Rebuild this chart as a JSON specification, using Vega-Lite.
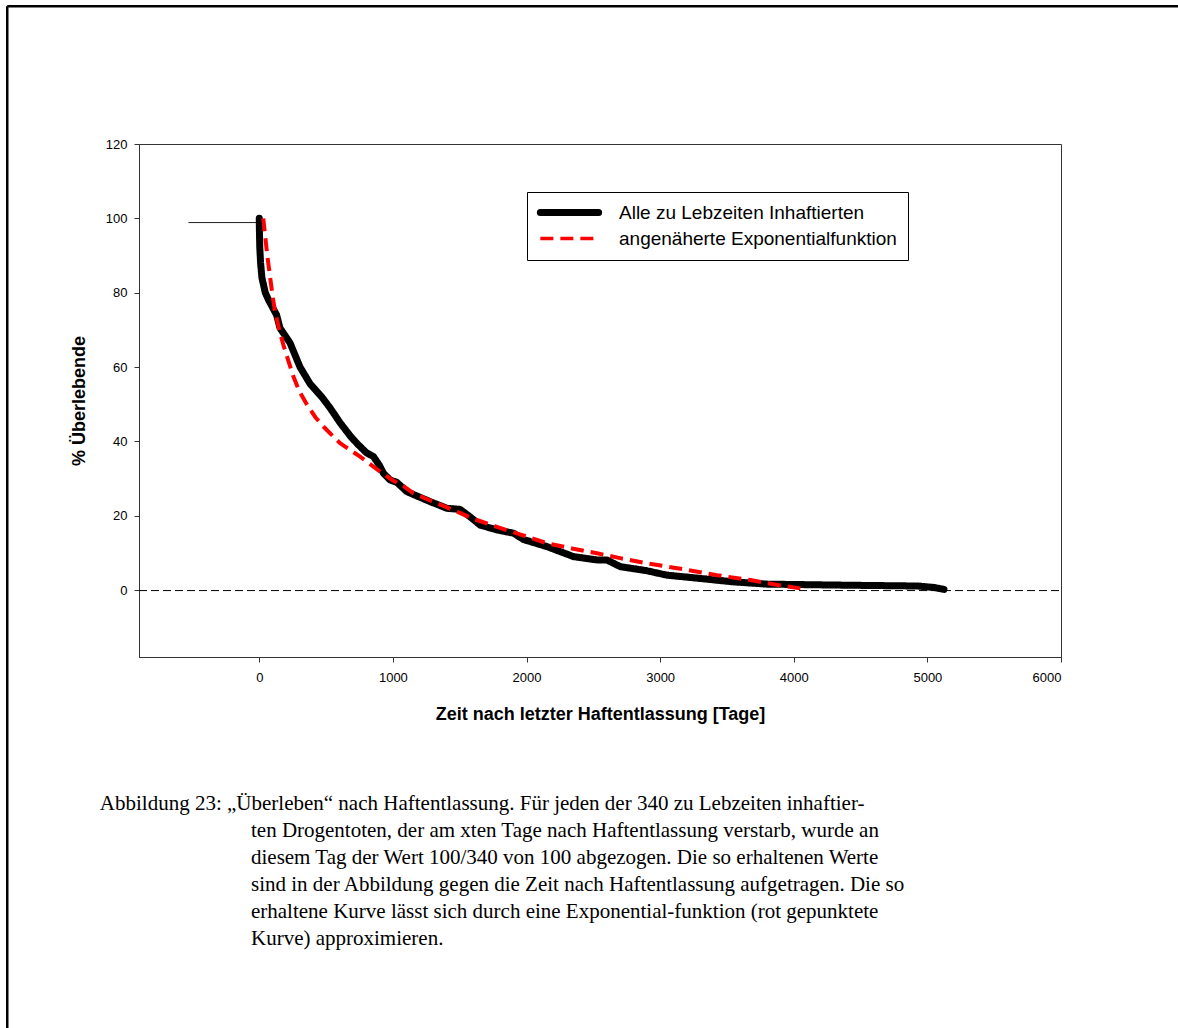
{
  "$schema": "https://vega.github.io/schema/vega-lite/v6.json",
  "width": 922,
  "height": 513,
  "autosize": {"type": "none"},
  "padding": {"left": 139, "top": 144, "right": 117, "bottom": 371},
  "background": "white",
  "config": {
    "view": {"stroke": "#333333", "strokeWidth": 1},
    "font": "Liberation Sans",
    "axis": {
      "domainColor": "#333333", "tickColor": "#333333", "labelColor": "black", "titleColor": "black",
      "grid": false, "labelFont": "Liberation Sans", "titleFont": "Liberation Sans",
      "labelFontSize": 13, "titleFontSize": 18, "titleFontWeight": "bold", "tickSize": 5
    },
    "legend": {
      "orient": "none", "legendX": 388, "legendY": 48, "strokeColor": "black", "fillColor": "white",
      "padding": 11, "symbolType": "stroke", "symbolSize": 3400, "labelFontSize": 19, "labelLimit": 0,
      "labelFont": "Liberation Sans", "labelColor": "black", "rowPadding": 2, "labelOffset": 40, "symbolOffset": 22
    }
  },
  "datasets": {
    "curves": [
      {"series": "Alle zu Lebzeiten Inhaftierten", "x": 0, "y": 100},
      {"series": "Alle zu Lebzeiten Inhaftierten", "x": 1, "y": 97},
      {"series": "Alle zu Lebzeiten Inhaftierten", "x": 4, "y": 92},
      {"series": "Alle zu Lebzeiten Inhaftierten", "x": 10, "y": 88},
      {"series": "Alle zu Lebzeiten Inhaftierten", "x": 20, "y": 84},
      {"series": "Alle zu Lebzeiten Inhaftierten", "x": 45, "y": 80},
      {"series": "Alle zu Lebzeiten Inhaftierten", "x": 70, "y": 78},
      {"series": "Alle zu Lebzeiten Inhaftierten", "x": 100, "y": 76},
      {"series": "Alle zu Lebzeiten Inhaftierten", "x": 130, "y": 74},
      {"series": "Alle zu Lebzeiten Inhaftierten", "x": 155, "y": 70.5},
      {"series": "Alle zu Lebzeiten Inhaftierten", "x": 230, "y": 66.5},
      {"series": "Alle zu Lebzeiten Inhaftierten", "x": 305, "y": 60},
      {"series": "Alle zu Lebzeiten Inhaftierten", "x": 380, "y": 55.5},
      {"series": "Alle zu Lebzeiten Inhaftierten", "x": 467, "y": 52},
      {"series": "Alle zu Lebzeiten Inhaftierten", "x": 530, "y": 49},
      {"series": "Alle zu Lebzeiten Inhaftierten", "x": 605, "y": 45},
      {"series": "Alle zu Lebzeiten Inhaftierten", "x": 680, "y": 41.5},
      {"series": "Alle zu Lebzeiten Inhaftierten", "x": 730, "y": 39.5},
      {"series": "Alle zu Lebzeiten Inhaftierten", "x": 800, "y": 37},
      {"series": "Alle zu Lebzeiten Inhaftierten", "x": 855, "y": 35.9},
      {"series": "Alle zu Lebzeiten Inhaftierten", "x": 900, "y": 33.5},
      {"series": "Alle zu Lebzeiten Inhaftierten", "x": 930, "y": 31.4},
      {"series": "Alle zu Lebzeiten Inhaftierten", "x": 980, "y": 29.6},
      {"series": "Alle zu Lebzeiten Inhaftierten", "x": 1029, "y": 29},
      {"series": "Alle zu Lebzeiten Inhaftierten", "x": 1104, "y": 26.5},
      {"series": "Alle zu Lebzeiten Inhaftierten", "x": 1200, "y": 25},
      {"series": "Alle zu Lebzeiten Inhaftierten", "x": 1279, "y": 23.8},
      {"series": "Alle zu Lebzeiten Inhaftierten", "x": 1404, "y": 22},
      {"series": "Alle zu Lebzeiten Inhaftierten", "x": 1503, "y": 21.7},
      {"series": "Alle zu Lebzeiten Inhaftierten", "x": 1578, "y": 19.7},
      {"series": "Alle zu Lebzeiten Inhaftierten", "x": 1653, "y": 17.5},
      {"series": "Alle zu Lebzeiten Inhaftierten", "x": 1778, "y": 16.2},
      {"series": "Alle zu Lebzeiten Inhaftierten", "x": 1903, "y": 15.3},
      {"series": "Alle zu Lebzeiten Inhaftierten", "x": 1978, "y": 13.6},
      {"series": "Alle zu Lebzeiten Inhaftierten", "x": 2153, "y": 11.7},
      {"series": "Alle zu Lebzeiten Inhaftierten", "x": 2352, "y": 9},
      {"series": "Alle zu Lebzeiten Inhaftierten", "x": 2527, "y": 8.1},
      {"series": "Alle zu Lebzeiten Inhaftierten", "x": 2602, "y": 8.1},
      {"series": "Alle zu Lebzeiten Inhaftierten", "x": 2702, "y": 6.3},
      {"series": "Alle zu Lebzeiten Inhaftierten", "x": 2902, "y": 5.2},
      {"series": "Alle zu Lebzeiten Inhaftierten", "x": 3052, "y": 4},
      {"series": "Alle zu Lebzeiten Inhaftierten", "x": 3226, "y": 3.4},
      {"series": "Alle zu Lebzeiten Inhaftierten", "x": 3551, "y": 2.2},
      {"series": "Alle zu Lebzeiten Inhaftierten", "x": 3801, "y": 1.6},
      {"series": "Alle zu Lebzeiten Inhaftierten", "x": 4425, "y": 1.3},
      {"series": "Alle zu Lebzeiten Inhaftierten", "x": 4924, "y": 1.1},
      {"series": "Alle zu Lebzeiten Inhaftierten", "x": 5050, "y": 0.7},
      {"series": "Alle zu Lebzeiten Inhaftierten", "x": 5124, "y": 0.2},
      {"series": "angenäherte Exponentialfunktion", "x": 30, "y": 100},
      {"series": "angenäherte Exponentialfunktion", "x": 45, "y": 95},
      {"series": "angenäherte Exponentialfunktion", "x": 60, "y": 90},
      {"series": "angenäherte Exponentialfunktion", "x": 82, "y": 84},
      {"series": "angenäherte Exponentialfunktion", "x": 100, "y": 79},
      {"series": "angenäherte Exponentialfunktion", "x": 118, "y": 75},
      {"series": "angenäherte Exponentialfunktion", "x": 150, "y": 70},
      {"series": "angenäherte Exponentialfunktion", "x": 180, "y": 66},
      {"series": "angenäherte Exponentialfunktion", "x": 255, "y": 57.5},
      {"series": "angenäherte Exponentialfunktion", "x": 300, "y": 53.5},
      {"series": "angenäherte Exponentialfunktion", "x": 355, "y": 50},
      {"series": "angenäherte Exponentialfunktion", "x": 420, "y": 46.5},
      {"series": "angenäherte Exponentialfunktion", "x": 480, "y": 44},
      {"series": "angenäherte Exponentialfunktion", "x": 605, "y": 39.5},
      {"series": "angenäherte Exponentialfunktion", "x": 755, "y": 35.9},
      {"series": "angenäherte Exponentialfunktion", "x": 906, "y": 31.8},
      {"series": "angenäherte Exponentialfunktion", "x": 1000, "y": 29.5},
      {"series": "angenäherte Exponentialfunktion", "x": 1079, "y": 28},
      {"series": "angenäherte Exponentialfunktion", "x": 1154, "y": 26},
      {"series": "angenäherte Exponentialfunktion", "x": 1300, "y": 23.8},
      {"series": "angenäherte Exponentialfunktion", "x": 1454, "y": 21.5},
      {"series": "angenäherte Exponentialfunktion", "x": 1600, "y": 19.2},
      {"series": "angenäherte Exponentialfunktion", "x": 1778, "y": 17},
      {"series": "angenäherte Exponentialfunktion", "x": 1950, "y": 15},
      {"series": "angenäherte Exponentialfunktion", "x": 2153, "y": 12.6},
      {"series": "angenäherte Exponentialfunktion", "x": 2340, "y": 11.2},
      {"series": "angenäherte Exponentialfunktion", "x": 2527, "y": 9.9},
      {"series": "angenäherte Exponentialfunktion", "x": 2700, "y": 8.6},
      {"series": "angenäherte Exponentialfunktion", "x": 2902, "y": 7.2},
      {"series": "angenäherte Exponentialfunktion", "x": 3176, "y": 5.6},
      {"series": "angenäherte Exponentialfunktion", "x": 3426, "y": 4.0},
      {"series": "angenäherte Exponentialfunktion", "x": 3676, "y": 2.7},
      {"series": "angenäherte Exponentialfunktion", "x": 3925, "y": 1.1},
      {"series": "angenäherte Exponentialfunktion", "x": 4100, "y": 0.2}
    ]
  },
  "layer": [
    {
      "data": {"values": [{}]},
      "mark": {"type": "rule", "color": "black", "strokeWidth": 1, "strokeDash": [8, 4]},
      "encoding": {
        "x": {"datum": -900, "type": "quantitative", "scale": {"domain": [-900, 6000], "nice": false, "zero": false}},
        "x2": {"datum": 6000},
        "y": {"datum": -0.13, "type": "quantitative", "scale": {"domain": [-18, 120], "nice": false, "zero": false}}
      }
    },
    {
      "data": {"values": [{}]},
      "mark": {"type": "rule", "color": "#222222", "strokeWidth": 1},
      "encoding": {
        "x": {"datum": -530, "type": "quantitative"},
        "x2": {"datum": 0},
        "y": {"datum": 98.87, "type": "quantitative"}
      }
    },
    {
      "data": {"name": "curves"},
      "transform": [{"filter": "datum.series === 'Alle zu Lebzeiten Inhaftierten'"}],
      "mark": {"type": "line", "strokeWidth": 7, "strokeCap": "round", "strokeJoin": "round"},
      "encoding": {
        "x": {"field": "x", "type": "quantitative",
          "scale": {"domain": [-900, 6000], "nice": false, "zero": false},
          "axis": {"values": [0, 1000, 2000, 3000, 4000, 5000, 6000], "title": "Zeit nach letzter Haftentlassung [Tage]", "labelPadding": 9, "titlePadding": 21, "format": "d"}},
        "y": {"field": "y", "type": "quantitative",
          "scale": {"domain": [-18, 120], "nice": false, "zero": false},
          "axis": {"values": [0, 20, 40, 60, 80, 100, 120], "title": "% Überlebende", "labelPadding": 7, "titlePadding": 17, "format": "d"}},
        "color": {"field": "series", "type": "nominal",
          "scale": {"domain": ["Alle zu Lebzeiten Inhaftierten", "angenäherte Exponentialfunktion"], "range": ["black", "#ff0000"]},
          "legend": {"title": null,
            "encode": {"symbols": {"update": {
              "strokeWidth": {"signal": "datum.value === 'Alle zu Lebzeiten Inhaftierten' ? 7 : 3.5"},
              "strokeCap": {"signal": "datum.value === 'Alle zu Lebzeiten Inhaftierten' ? 'round' : 'butt'"}
            }}}}},
        "strokeDash": {"field": "series", "type": "nominal",
          "scale": {"domain": ["Alle zu Lebzeiten Inhaftierten", "angenäherte Exponentialfunktion"], "range": [[1, 0], [13, 7]]},
          "legend": {"title": null}}
      }
    },
    {
      "data": {"name": "curves"},
      "transform": [{"filter": "datum.series === 'angenäherte Exponentialfunktion'"}],
      "mark": {"type": "line", "strokeWidth": 4, "strokeCap": "butt"},
      "encoding": {
        "x": {"field": "x", "type": "quantitative"},
        "y": {"field": "y", "type": "quantitative"},
        "color": {"field": "series", "type": "nominal"},
        "strokeDash": {"field": "series", "type": "nominal"}
      }
    },
    {
      "data": {"values": [{}]},
      "mark": {"type": "text", "align": "left", "baseline": "alphabetic", "font": "Liberation Serif", "fontSize": 21, "color": "black",
        "text": "Abbildung 23: „Überleben“ nach Haftentlassung. Für jeden der 340 zu Lebzeiten inhaftier-"},
      "encoding": {
        "x": {"datum": -1193, "type": "quantitative"},
        "y": {"datum": -59.2, "type": "quantitative"}
      }
    },
    {
      "data": {"values": [{}]},
      "mark": {"type": "text", "align": "left", "baseline": "alphabetic", "font": "Liberation Serif", "fontSize": 21, "color": "black", "lineHeight": 27,
        "text": ["ten Drogentoten, der am xten Tage nach Haftentlassung verstarb, wurde an", "diesem Tag der Wert 100/340 von 100 abgezogen. Die so erhaltenen Werte", "sind in der Abbildung gegen die Zeit nach Haftentlassung aufgetragen. Die so", "erhaltene Kurve lässt sich durch eine Exponential-funktion (rot gepunktete", "Kurve) approximieren."]},
      "encoding": {
        "x": {"datum": -62, "type": "quantitative"},
        "y": {"datum": -66.5, "type": "quantitative"}
      }
    },
    {
      "data": {"values": [{}]},
      "mark": {"type": "rule", "color": "black", "strokeWidth": 2.5},
      "encoding": {
        "x": {"datum": -1886, "type": "quantitative"},
        "y": {"datum": 157.05, "type": "quantitative"},
        "y2": {"datum": -120}
      }
    },
    {
      "data": {"values": [{}]},
      "mark": {"type": "rule", "color": "black", "strokeWidth": 2.5},
      "encoding": {
        "x": {"datum": -1886, "type": "quantitative"},
        "x2": {"datum": 6900},
        "y": {"datum": 157.05, "type": "quantitative"}
      }
    }
  ]
}
